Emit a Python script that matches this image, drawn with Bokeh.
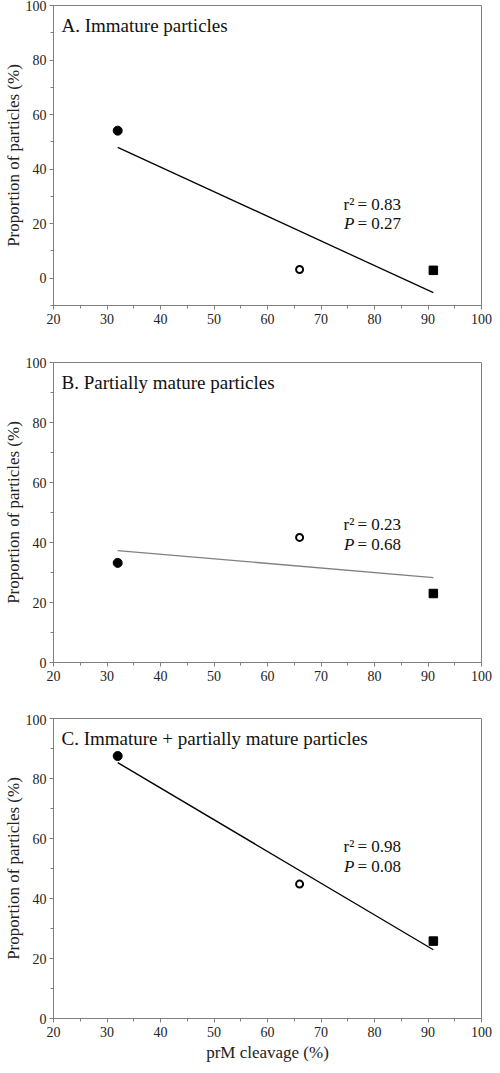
from bokeh.plotting import figure
from bokeh.models import Range1d, SingleIntervalTicker, Label
from bokeh.layouts import column
from bokeh.embed import file_html
from bokeh.resources import INLINE

# ---------------- data ----------------
cleavage = [32, 66, 91]                 # prM cleavage (%)
immature = [54.1, 3.2, 2.9]             # panel A
partial = [33.2, 41.7, 23.0]            # panel B
combined = [87.5, 44.8, 25.8]           # panel C

fit_x = [32, 91]
fit_A = [48.0, -5.3]
fit_B = [37.3, 28.3]
fit_C = [85.3, 22.9]

titles = ["A. Immature particles", "B. Partially mature particles",
          "C. Immature + partially mature particles"]
r2_names = ["r\u00b2", "r\u00b2", "r\u00b2"]
r2_values = ["= 0.83", "= 0.23", "= 0.98"]
p_values = ["= 0.27", "= 0.68", "= 0.08"]
stat_x = 76.8
stat_y1 = [27.1, 46.0, 57.2]
stat_y2 = [19.9, 39.5, 50.7]
y_mins = [-10, 0, 0]
fit_colors = ["black", "#808080", "black"]

FONT = "Liberation Serif"
GRAY = "#808080"
TXT = "#111111"

# figure geometry: (height, top border, bottom border)
geom = [(357, 5, 52), (357, 5, 52), (351, 4, 47)]


def make_panel(i, yvals, fit_y, last):
    h, bt, bb = geom[i]
    p = figure(width=492, height=h,
               x_range=Range1d(20, 100), y_range=Range1d(y_mins[i], 100),
               output_backend="svg", toolbar_location=None,
               min_border_left=47, min_border_right=11,
               min_border_top=bt, min_border_bottom=bb)
    p.background_fill_color = "white"
    p.border_fill_color = "white"
    p.outline_line_color = GRAY
    p.outline_line_width = 1
    p.xgrid.visible = False
    p.ygrid.visible = False

    p.xaxis.ticker = SingleIntervalTicker(interval=10, num_minor_ticks=2)
    p.yaxis.ticker = SingleIntervalTicker(interval=20, num_minor_ticks=2)
    for ax in (p.xaxis[0], p.yaxis[0]):
        ax.axis_line_color = GRAY
        ax.major_tick_line_color = GRAY
        ax.minor_tick_line_color = GRAY
        ax.major_tick_in = 0
        ax.major_tick_out = 4
        ax.minor_tick_in = 0
        ax.minor_tick_out = 3
        ax.major_label_text_font = FONT
        ax.major_label_text_font_size = "14px"
        ax.major_label_text_color = "#222222"
        ax.axis_label_text_font = FONT
        ax.axis_label_text_font_size = "17px"
        ax.axis_label_text_font_style = "normal"
        ax.axis_label_text_color = "#222222"
        ax.major_label_standoff = 4
        ax.axis_label_standoff = 3
    p.yaxis.major_label_standoff = 3
    p.yaxis.axis_label_standoff = 0
    p.yaxis.axis_label = "Proportion of particles (%)"
    if last:
        p.xaxis.axis_label = "prM cleavage (%)"

    p.line(fit_x, fit_y, line_color=fit_colors[i], line_width=1.3)
    p.scatter([cleavage[0]], [yvals[0]], marker="circle", size=9,
              fill_color="black", line_color="black")
    p.scatter([cleavage[1]], [yvals[1]], marker="circle", size=7,
              fill_color="white", line_color="black", line_width=2)
    p.scatter([cleavage[2]], [yvals[2]], marker="square", size=8.5,
              fill_color="black", line_color="black")

    frame_h = h - bt - bb
    p.add_layout(Label(x=8, y=frame_h - 20, x_units="screen", y_units="screen",
                       text=titles[i], text_font=FONT, text_font_size="19px",
                       text_color=TXT, text_baseline="middle",
                       text_align="left"))
    p.add_layout(Label(x=stat_x, y=stat_y1[i], x_offset=-3, text=r2_names[i],
                       text_font=FONT, text_font_size="17px", text_color=TXT,
                       text_baseline="middle", text_align="right"))
    p.add_layout(Label(x=stat_x, y=stat_y1[i], x_offset=0, text=r2_values[i],
                       text_font=FONT, text_font_size="17px", text_color=TXT,
                       text_baseline="middle", text_align="left"))
    p.add_layout(Label(x=stat_x, y=stat_y2[i], x_offset=-3, text="P",
                       text_font=FONT, text_font_size="17px", text_font_style="italic",
                       text_color=TXT, text_baseline="middle", text_align="right"))
    p.add_layout(Label(x=stat_x, y=stat_y2[i], x_offset=0, text=p_values[i],
                       text_font=FONT, text_font_size="17px", text_color=TXT,
                       text_baseline="middle", text_align="left"))
    return p


pa = make_panel(0, immature, fit_A, False)
pb = make_panel(1, partial, fit_B, False)
pc = make_panel(2, combined, fit_C, True)

layout = column(pa, pb, pc, spacing=0)
open("out.html", "w").write(file_html(layout, INLINE))
